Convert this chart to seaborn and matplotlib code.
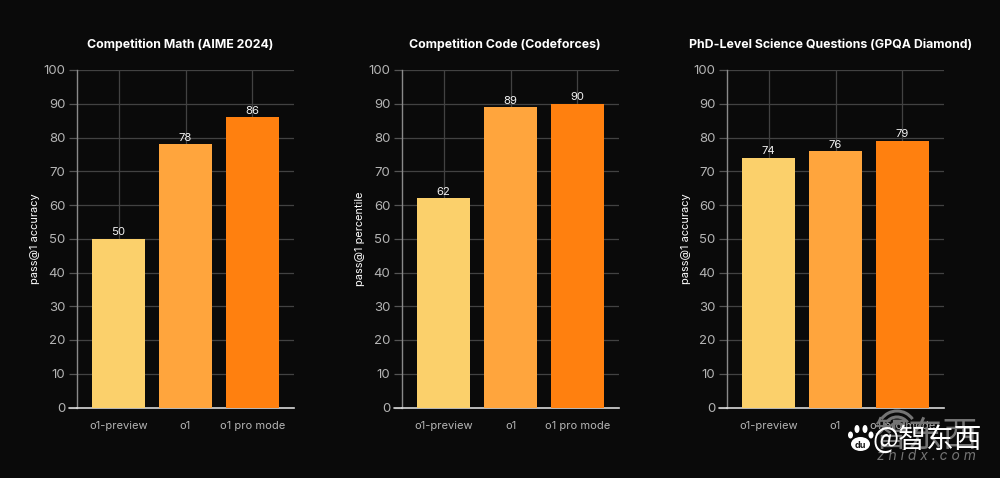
import matplotlib
matplotlib.use("Agg")
import matplotlib.pyplot as plt
from matplotlib.patches import Ellipse, Arc
import seaborn as sns
import pandas as pd

models = ["o1-preview", "o1", "o1 pro mode"]
titles = ["Competition Math (AIME 2024)", "Competition Code (Codeforces)", "PhD-Level Science Questions (GPQA Diamond)"]
ylabels = ["pass@1 accuracy", "pass@1 percentile", "pass@1 accuracy"]
math_vals = [50, 78, 86]
code_vals = [62, 89, 90]
science_vals = [74, 76, 79]
colors = ["#FBD06B", "#FFA53D", "#FF800F"]
yticks = [0, 10, 20, 30, 40, 50, 60, 70, 80, 90, 100]

BG = "#0A0A0A"
W, H = 1000, 478
sns.set_theme(style="dark")
plt.rcParams["font.family"] = ["Inter", "DejaVu Sans"]

fig = plt.figure(figsize=(W / 100, H / 100), dpi=100, facecolor=BG)
lefts = [77, 402, 727]
ylab_x = [35, 360, 686]
title_cx = [180, 505, 830.5]

for left, lx, cx, title, ylab, vals in zip(lefts, ylab_x, title_cx, titles, ylabels,
                                          [math_vals, code_vals, science_vals]):
    ax = fig.add_axes([left / W, 1 - 407.5 / H, 217 / W, 337.5 / H], facecolor=BG)
    df = pd.DataFrame({"model": models, "value": vals})
    sns.barplot(data=df, x="model", y="value", hue="model", palette=colors, dodge=False,
                legend=False, width=0.79, saturation=1, ax=ax, zorder=3)
    for p in ax.patches:
        p.set_linewidth(0)
    ax.set_xlim(-0.62, 2.62)
    ax.set_ylim(0, 100)
    ax.set_yticks(yticks)
    ax.grid(True, axis="both", color="#424242", linewidth=0.9, zorder=0)
    ax.set_axisbelow(True)
    ax.tick_params(axis="y", length=6, width=0.9, color="#555555", labelcolor="#B4B4B4",
                   labelsize=9.5, pad=2.5, left=True)
    ax.tick_params(axis="x", length=0, labelcolor="#B4B4B4", labelsize=8, pad=9.5)
    ax.set_xlabel("")
    ax.set_ylabel("")
    for s in ["top", "right"]:
        ax.spines[s].set_visible(False)
    ax.spines["left"].set_color("#8A8A8A")
    ax.spines["left"].set_linewidth(1)
    ax.spines["bottom"].set_color("#D8D8D8")
    ax.spines["bottom"].set_linewidth(1.2)
    ax.spines["bottom"].set_bounds(-0.62, 2.62)
    ax.plot([-0.745, -0.62], [0, 0], color="#D8D8D8", lw=1.2, clip_on=False, zorder=4)
    for i, v in enumerate(vals):
        ax.annotate(str(v), (i, v), xytext=(0, 1), textcoords="offset points", ha="center",
                    va="bottom", color="#F0F0F0", fontsize=8.2, zorder=5)
    fig.text(cx / W, 1 - 44.5 / H, title, color="white", fontsize=8.9, fontweight="bold",
             ha="center", va="center")
    fig.text(lx / W, 1 - 239 / H, ylab, color="white", fontsize=7.9, rotation=90,
             ha="center", va="center")

# Watermark overlay in pixel coordinates
ov = fig.add_axes([0, 0, 1, 1], facecolor="none", zorder=10)
ov.set_xlim(0, W)
ov.set_ylim(H, 0)
ov.axis("off")
cjk = ["Noto Sans CJK SC", "DejaVu Sans"]
GR = "#747474"
for d in [14, 26, 38]:
    ov.add_patch(Arc((897, 430), d, d, theta1=215, theta2=325, color=GR, lw=2.2))
ov.text(926, 436, "智东西", color=GR, fontsize=25, family=cjk, ha="center", va="center")
ov.text(926, 456, "z h i d x . c o m", color=GR, fontsize=10, style="italic", ha="center", va="center")
for cx_, cy_, w_, h_ in [(850.5, 435, 5, 7), (857, 429, 5, 8), (865, 429, 5, 8), (871, 435, 5, 7), (860.5, 444, 19, 14)]:
    ov.add_patch(Ellipse((cx_, cy_), w_, h_, color="white", lw=0))
ov.text(860.5, 445, "du", color="#1A1A1A", fontsize=6.5, fontweight="bold", ha="center", va="center")
ov.text(872, 441, "@智东西", color="white", fontsize=20, family=cjk, ha="left", va="center")

fig.savefig("out.png", dpi=100, facecolor=BG)
